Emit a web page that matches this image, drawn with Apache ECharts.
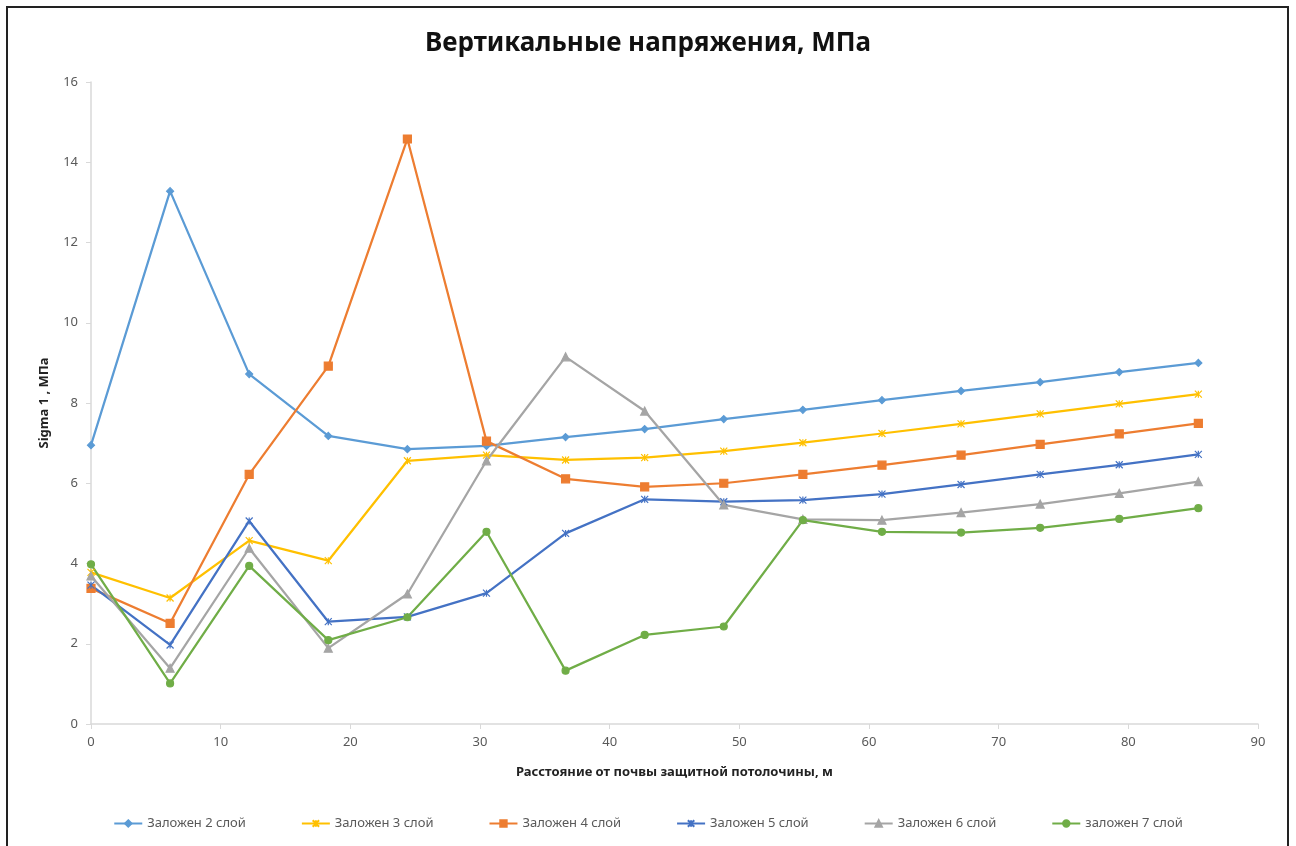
<!DOCTYPE html>
<html>
<head>
<meta charset="utf-8">
<script src="https://cdn.jsdelivr.net/npm/echarts@6/dist/echarts.min.js"></script>
<style>
  html, body { margin: 0; padding: 0; background: #fff; overflow: hidden; }
  #frame { position: absolute; left: 6px; top: 6px; width: 1279px; height: 860px;
           border: 2px solid #222; border-bottom: none; z-index: 2; pointer-events: none; }
  #chart { position: absolute; left: 0; top: 0; width: 1296px; height: 846px; z-index: 1; }
</style>
</head>
<body>
<div id="chart"></div>
<div id="frame"></div>
<script>
// Distance from the floor of the protective pillar, m
const distance = [0, 6.1, 12.2, 18.3, 24.4, 30.5, 36.6, 42.7, 48.8, 54.9, 61.0, 67.1, 73.2, 79.3, 85.4];

// Vertical stress (Sigma 1), MPa, for each placed layer
const layer2 = [6.95, 13.28, 8.72, 7.18, 6.85, 6.93, 7.15, 7.35, 7.60, 7.83, 8.07, 8.30, 8.52, 8.77, 9.00];
const layer3 = [3.78, 3.14, 4.57, 4.07, 6.56, 6.70, 6.58, 6.64, 6.80, 7.01, 7.24, 7.48, 7.73, 7.98, 8.22];
const layer4 = [3.38, 2.51, 6.22, 8.92, 14.58, 7.05, 6.11, 5.91, 6.00, 6.22, 6.45, 6.70, 6.97, 7.23, 7.49];
const layer5 = [3.46, 1.97, 5.06, 2.55, 2.67, 3.26, 4.75, 5.60, 5.54, 5.58, 5.73, 5.97, 6.22, 6.46, 6.72];
const layer6 = [3.69, 1.39, 4.38, 1.89, 3.24, 6.56, 9.15, 7.80, 5.46, 5.10, 5.08, 5.27, 5.48, 5.75, 6.04];
const layer7 = [3.98, 1.01, 3.94, 2.09, 2.66, 4.79, 1.33, 2.22, 2.43, 5.08, 4.79, 4.77, 4.89, 5.11, 5.38];

const seriesNames = ['Заложен 2 слой', 'Заложен 3 слой', 'Заложен 4 слой', 'Заложен 5 слой', 'Заложен 6 слой', 'заложен 7 слой'];
const seriesColors = ['#5B9BD5', '#FFC000', '#ED7D31', '#4472C4', '#A5A5A5', '#70AD47'];

const STAR = 'path://M0,0L10,10M10,0L0,10M5,0L5,10';
const markers = [
  { symbol: 'diamond', size: 7 },
  { symbol: STAR, size: 7 },
  { symbol: 'rect', size: 8 },
  { symbol: STAR, size: 7 },
  { symbol: 'triangle', size: 8 },
  { symbol: 'circle', size: 7 }
];

const FONT = '"Noto Sans", "DejaVu Sans", sans-serif';
const values = [layer2, layer3, layer4, layer5, layer6, layer7];

const series = values.map((v, i) => ({
  name: seriesNames[i],
  type: 'line',
  data: distance.map((x, k) => [x, v[k]]),
  symbol: markers[i].symbol,
  symbolSize: markers[i].size,
  showAllSymbol: true,
  lineStyle: { color: seriesColors[i], width: 2.25 },
  itemStyle: { color: seriesColors[i], borderColor: seriesColors[i], borderWidth: 1.2 },
  emphasis: { disabled: true },
  animation: false
}));

const chart = echarts.init(document.getElementById('chart'), null, { renderer: 'canvas' });
chart.setOption({
  backgroundColor: '#fff',
  animation: false,
  title: {
    text: 'Вертикальные напряжения, МПа',
    left: 'center',
    top: 26,
    textStyle: { fontFamily: FONT, fontSize: 26, fontWeight: 'bold', color: '#111' }
  },
  grid: { left: 91, right: 38, top: 82, bottom: 122, containLabel: false },
  xAxis: {
    type: 'value',
    min: 0, max: 90, interval: 10,
    name: 'Расстояние от почвы защитной потолочины, м',
    nameLocation: 'middle',
    nameGap: 42,
    nameTextStyle: { fontFamily: FONT, fontSize: 13, fontWeight: 'bold', color: '#222' },
    axisLine: { show: true, lineStyle: { color: '#d9d9d9', width: 1.5 } },
    axisTick: { show: true, length: 5, lineStyle: { color: '#d9d9d9' } },
    axisLabel: { fontFamily: FONT, fontSize: 13, color: '#595959', margin: 12 },
    splitLine: { show: false }
  },
  yAxis: {
    type: 'value',
    min: 0, max: 16, interval: 2,
    name: 'Sigma 1 , МПа',
    nameLocation: 'middle',
    nameGap: 40,
    nameTextStyle: { fontFamily: FONT, fontSize: 13, fontWeight: 'bold', color: '#222' },
    axisLine: { show: true, lineStyle: { color: '#d9d9d9', width: 1.5 } },
    axisTick: { show: true, length: 5, lineStyle: { color: '#d9d9d9' } },
    axisLabel: { fontFamily: FONT, fontSize: 13, color: '#595959', margin: 13 },
    splitLine: { show: false }
  },
  legend: {
    data: seriesNames,
    top: 812,
    left: 'center',
    itemWidth: 28,
    itemHeight: 8,
    itemGap: 55,
    textStyle: { fontFamily: FONT, fontSize: 13, color: '#595959' }
  },
  series: series
});
</script>
</body>
</html>
